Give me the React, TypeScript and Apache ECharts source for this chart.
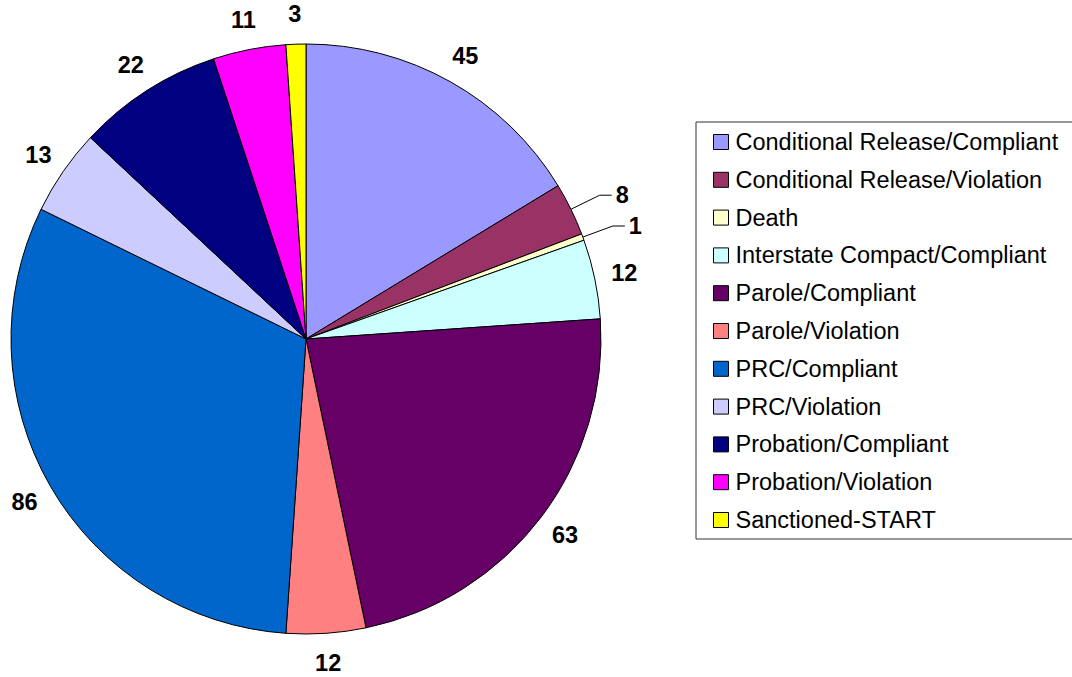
import React, { useEffect, useRef } from "react";
import * as echarts from "echarts";

const categories = [
  "Conditional Release/Compliant",
  "Conditional Release/Violation",
  "Death",
  "Interstate Compact/Compliant",
  "Parole/Compliant",
  "Parole/Violation",
  "PRC/Compliant",
  "PRC/Violation",
  "Probation/Compliant",
  "Probation/Violation",
  "Sanctioned-START",
];
const values = [45, 8, 1, 12, 63, 12, 86, 13, 22, 11, 3];
const colors = [
  "#9999FF",
  "#993366",
  "#FFFFCC",
  "#CCFFFF",
  "#660066",
  "#FF8080",
  "#0066CC",
  "#CCCCFF",
  "#000080",
  "#FF00FF",
  "#FFFF00",
];
const leaderLineItems = ["Conditional Release/Violation", "Death"];

const FONT = "Liberation Sans, Arial, sans-serif";

export default function App() {
  const ref = useRef<HTMLDivElement>(null);
  useEffect(() => {
    if (!ref.current) return;
    const chart = echarts.init(ref.current, null, { renderer: "svg" });
    const data = categories.map((name, i) => {
      const withLine = leaderLineItems.includes(name);
      return {
        name,
        value: values[i],
        itemStyle: { color: colors[i] },
        labelLine: withLine
          ? { show: true, length: 32, length2: 12, lineStyle: { color: "#000", width: 1, opacity: 1 } }
          : { show: true, length: 18, length2: 0, lineStyle: { opacity: 0 } },
      };
    });
    chart.setOption({
      animation: false,
      backgroundColor: "#fff",
      legend: {
        orient: "vertical",
        left: 696,
        top: 122,
        data: categories,
        icon: "rect",
        itemWidth: 15,
        itemHeight: 15,
        itemGap: 13.8,
        padding: [8, 16, 7, 17],
        borderColor: "#333",
        borderWidth: 1,
        selectedMode: false,
        itemStyle: { borderColor: "#000", borderWidth: 1 },
        textStyle: {
          fontFamily: FONT,
          fontSize: 23.5,
          lineHeight: 24,
          color: "#000",
          padding: [0, 0, 0, 2],
        },
      },
      series: [
        {
          type: "pie",
          center: [306, 339],
          radius: 295,
          startAngle: 90,
          clockwise: true,
          avoidLabelOverlap: false,
          data,
          itemStyle: { borderColor: "#000", borderWidth: 1 },
          emphasis: { disabled: true },
          label: {
            show: true,
            position: "outside",
            formatter: "{c}",
            fontFamily: FONT,
            fontSize: 23.5,
            fontWeight: "bold",
            color: "#000",
            overflow: "none",
            distanceToLabelLine: 4,
          },
          labelLayout: (p: any) => {
            const name = categories[p.dataIndex];
            if (leaderLineItems.includes(name)) return {};
            const pts = p.labelLinePoints;
            if (!pts || pts.length < 2) return {};
            const a = pts[0];
            const b = pts[1];
            const dx = b[0] - a[0];
            const dy = b[1] - a[1];
            const len = Math.hypot(dx, dy) || 1;
            const off = 30;
            return {
              x: a[0] + (dx / len) * off,
              y: a[1] + (dy / len) * off,
              align: "center",
              verticalAlign: "middle",
            };
          },
        },
      ],
    });
    return () => chart.dispose();
  }, []);
  return (
    <div
      ref={ref}
      style={{ position: "fixed", left: 0, top: 0, width: 1072, height: 677 }}
    />
  );
}
